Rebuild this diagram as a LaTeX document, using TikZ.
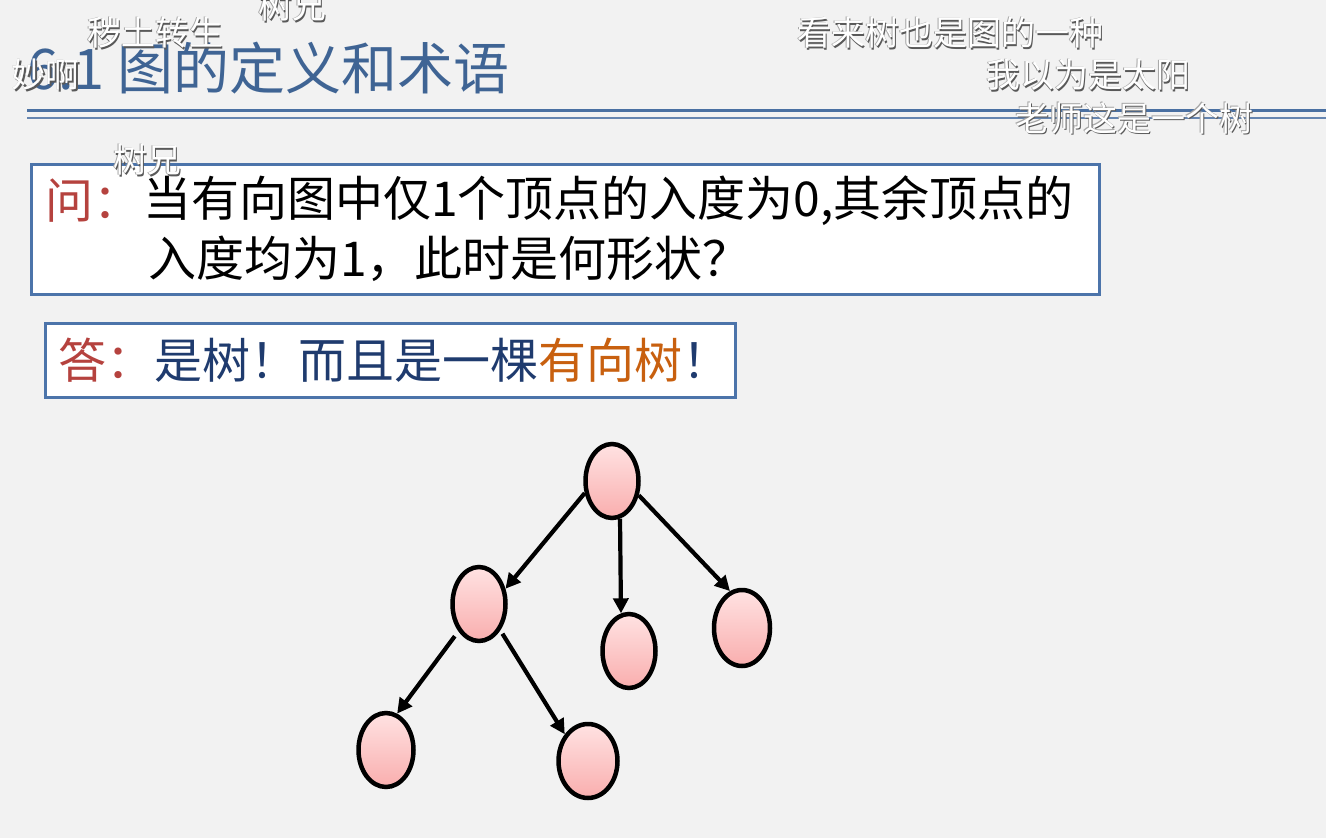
\documentclass[tikz,border=0pt]{standalone}
\usepackage{fontspec}
\setmainfont{Noto Sans CJK SC}
\newfontfamily\cjk{Noto Sans CJK SC}
\usetikzlibrary{shapes.geometric,arrows.meta,calc}
\definecolor{bgc}{HTML}{F2F2F2}
\definecolor{titleblue}{HTML}{3F6494}
\definecolor{lineblue}{HTML}{4A70A2}
\definecolor{boxblue}{HTML}{4C74AA}
\definecolor{qred}{HTML}{B5423E}
\definecolor{ablue}{HTML}{1F3B6E}
\definecolor{aorange}{HTML}{C8600F}
\definecolor{pinktop}{HTML}{FFE2E2}
\definecolor{pinkbot}{HTML}{F9AEAE}
\tikzset{
  vert/.style={ellipse, draw=black, line width=4.5pt, minimum width=53pt, minimum height=74pt, inner sep=0pt, top color=pinktop, bottom color=pinkbot},
  arr/.style={-{Triangle[length=15pt,width=15pt]}, line width=4.2pt, black},
  qbox/.style={draw=boxblue, line width=3pt, fill=white},
  dmt/.style={font=\cjk\fontsize{34}{36}\selectfont, white, inner sep=0pt},
  dms/.style={font=\cjk\fontsize{34}{36}\selectfont, black!65, inner sep=0pt},
  dmo/.style={font=\cjk\fontsize{34}{36}\selectfont, black!35, inner sep=0pt},
}
\newcommand\danmu[3]{%
  \node[dmo] at ($(#1,#2)+(-0.8,0.8)$) {#3};
  \node[dms] at ($(#1,#2)+(1.8,-1.8)$) {#3};
  \node[dmt] (#1-#2) at (#1,#2) {#3};}
\begin{document}
\begin{tikzpicture}[x=1pt,y=1pt]
\fill[bgc] (0,0) rectangle (1326,-838);
\useasboundingbox (0,0) rectangle (1326,-838);
% title
\node[anchor=west, inner sep=0pt, text=titleblue, font=\cjk\fontsize{56}{60}\selectfont] (title) at (27,-68) {6.1 图的定义和术语};
\coordinate (l1a) at (27,-110); \coordinate (l1b) at (1326,-110);
\coordinate (l2a) at (27,-118); \coordinate (l2b) at (1326,-118);
\draw[lineblue, line width=3pt] (l1a) -- (l1b);
\draw[lineblue!85, line width=1.6pt] (l2a) -- (l2b);
% question box
\node[qbox, minimum width=1068pt, minimum height=130pt, anchor=north west, inner sep=0pt] (qb) at (30,-163) {};
\node[anchor=west, inner sep=0pt, text=qred, font=\cjk\fontsize{48}{52}\selectfont] (qlab) at (45,-201) {问：};
\node[anchor=west, inner sep=0pt, font=\cjk\fontsize{48}{52}\selectfont] (q1) at (143,-201) {当有向图中仅1个顶点的入度为0,其余顶点的};
\node[anchor=west, inner sep=0pt, font=\cjk\fontsize{48}{52}\selectfont] (q2) at (148,-259) {入度均为1，此时是何形状？};
% answer box
\node[qbox, minimum width=690pt, minimum height=74pt, anchor=north west, inner sep=0pt] (ab) at (44,-322) {};
\node[anchor=west, inner sep=0pt, font=\cjk\fontsize{48}{52}\selectfont] (ans) at (58,-360) {\textcolor{qred}{答：}\textcolor{ablue}{是树！而且是一棵}\textcolor{aorange}{有向树}\textcolor{ablue}{！}};
% tree
\node[vert] (root) at (612,-481) {};
\node[vert] (lc) at (479,-604) {};
\node[vert] (mc) at (629,-651) {};
\node[vert, minimum width=56pt, minimum height=76pt] (rc) at (742,-628) {};
\node[vert, minimum width=55pt] (ll) at (386,-750) {};
\node[vert, minimum width=59pt, minimum height=74pt] (lr) at (588,-761) {};
\draw[arr] (root.204) -- (lc.30);
\draw[arr] (root.-78) -- (mc.102);
\draw[arr] (root.-28) -- (rc.108);
\draw[arr, shorten <=6pt] (lc.233) -- (ll.73);
\draw[arr, shorten <=4pt] (lc.-51) -- (lr.131);
% danmaku
\danmu{155}{-33}{秽土转生}
\danmu{46}{-75}{妙啊}
\danmu{147}{-160}{树兄}
\danmu{292}{-6}{树兄}
\danmu{950}{-33}{看来树也是图的一种}
\danmu{1088}{-75}{我以为是太阳}
\danmu{1134}{-118}{老师这是一个树}
\end{tikzpicture}
\end{document}
